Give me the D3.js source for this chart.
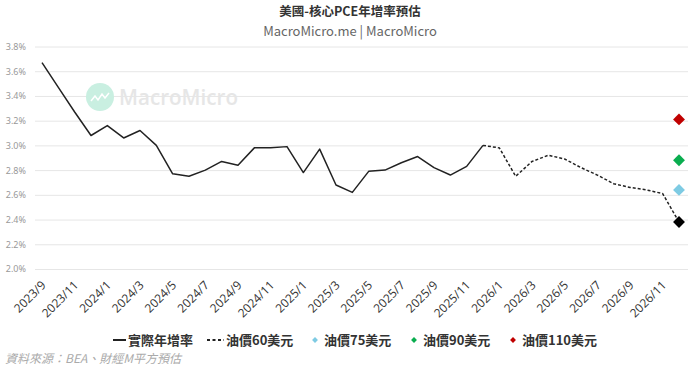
<!DOCTYPE html>
<html><head><meta charset="utf-8">
<script src="https://cdn.jsdelivr.net/npm/d3@7/dist/d3.min.js"></script>
<style>body{margin:0;background:#fff;}svg{display:block;font-family:"Noto Sans CJK TC","Noto Sans",sans-serif;}</style>
</head><body>
<svg id="c" width="700" height="368"></svg>
<script>
const months = ["2023/9","2023/10","2023/11","2023/12","2024/1","2024/2","2024/3","2024/4","2024/5","2024/6","2024/7","2024/8","2024/9","2024/10","2024/11","2024/12","2025/1","2025/2","2025/3","2025/4","2025/5","2025/6","2025/7","2025/8","2025/9","2025/10","2025/11","2025/12","2026/1","2026/2","2026/3","2026/4","2026/5","2026/6","2026/7","2026/8","2026/9","2026/10","2026/11","2026/12"];
const actual = [3.67,3.47,3.27,3.08,3.16,3.06,3.12,3.00,2.77,2.75,2.80,2.87,2.84,2.98,2.98,2.99,2.78,2.97,2.68,2.62,2.79,2.80,2.86,2.91,2.82,2.76,2.83,3.00];
const oil60Months = months.slice(27);
const oil60 = [3.00,2.98,2.75,2.87,2.92,2.89,2.82,2.76,2.69,2.66,2.64,2.61,2.38];
const oil75 = 2.64, oil90 = 2.88, oil110 = 3.21;
const yTicks = [2.0,2.2,2.4,2.6,2.8,3.0,3.2,3.4,3.6,3.8];
const tickLabels = months.filter((m,i)=>i%2===0 && i<39);

const svg = d3.select("#c");
const x = d3.scalePoint().domain(months).range([42,679]);
const y = d3.scaleLinear().domain([2.0,3.8]).range([269,46.5]);

// title
svg.append("text").attr("x",350).attr("y",16).attr("text-anchor","middle").attr("font-size",12.5).attr("font-weight","bold").attr("fill","#333").text("美國-核心PCE年增率預估");
svg.append("text").attr("x",350).attr("y",36).attr("text-anchor","middle").attr("font-size",13).attr("fill","#666").text("MacroMicro.me | MacroMicro");

// grid
const gy = svg.append("g").attr("transform","translate(35,0)")
  .call(d3.axisLeft(y).tickValues(yTicks).tickSize(-653).tickFormat(d=>d.toFixed(1)+"%"));
gy.select(".domain").remove();
gy.selectAll(".tick line").attr("stroke","#e6e6e6");
gy.selectAll(".tick text").attr("x",-9).attr("font-size",9).attr("fill","#999").attr("font-family","'Noto Sans',sans-serif");

// watermark
const wm = svg.append("g");
wm.append("circle").attr("cx",100).attr("cy",97).attr("r",14).attr("fill","#c9efe1");
wm.append("path").attr("d","M91,101 l4,-5 l3,4 l4,-6 l3,4 l4,-5").attr("fill","none").attr("stroke","#fff").attr("stroke-width",1.5);
wm.append("text").attr("x",119).attr("y",105).attr("font-size",22).attr("font-weight","600").attr("fill","#e6e6e6")
  .attr("font-family","'Open Sans',sans-serif").attr("textLength",119).attr("lengthAdjust","spacingAndGlyphs").text("MacroMicro");

// x axis labels
const gx = svg.append("g").attr("transform","translate(0,269)")
  .call(d3.axisBottom(x).tickValues(tickLabels).tickSize(0));
gx.select(".domain").remove();
gx.selectAll(".tick text").attr("font-size",12).attr("fill","#333")
  .attr("text-anchor","end").attr("dy",0).attr("y",0)
  .attr("transform","translate(4,17) rotate(-45)").attr("font-family","'Open Sans',sans-serif");

// lines
const line = d3.line().x(d=>x(d[0])).y(d=>y(d[1]));
svg.append("path").datum(actual.map((v,i)=>[months[i],v])).attr("d",line)
  .attr("fill","none").attr("stroke","#222").attr("stroke-width",1.5).attr("stroke-linejoin","round");
svg.append("path").datum(oil60.map((v,i)=>[oil60Months[i],v])).attr("d",line)
  .attr("fill","none").attr("stroke","#222").attr("stroke-width",1.5).attr("stroke-dasharray","3,2");

// diamonds
const lastM = months[months.length-1];
const diamonds = [[oil60[oil60.length-1],"#000"],[oil75,"#7ecbe3"],[oil90,"#0aad4f"],[oil110,"#c00000"]];
const sym = d3.symbol().type(d3.symbolDiamond2).size(90);
svg.selectAll(".dm").data(diamonds).join("path")
  .attr("transform",d=>`translate(${x(lastM)},${y(d[0])})`)
  .attr("d",sym).attr("fill",d=>d[1]);

// legend
const lg = svg.append("g").attr("font-size",13).attr("font-weight","bold").attr("fill","#333");
lg.append("line").attr("x1",113).attr("x2",126).attr("y1",340).attr("y2",340).attr("stroke","#222").attr("stroke-width",2);
lg.append("text").attr("x",128).attr("y",345).text("實際年增率");
lg.append("line").attr("x1",207).attr("x2",224).attr("y1",340).attr("y2",340).attr("stroke","#222").attr("stroke-width",2).attr("stroke-dasharray","3,2.5");
lg.append("text").attr("x",226).attr("y",345).text("油價60美元");
const items = [[315,"#7ecbe3","油價75美元"],[414,"#0aad4f","油價90美元"],[513,"#c00000","油價110美元"]];
const sym2 = d3.symbol().type(d3.symbolDiamond2).size(22);
items.forEach(it=>{
  lg.append("path").attr("transform",`translate(${it[0]},340)`).attr("d",sym2).attr("fill",it[1]);
  lg.append("text").attr("x",it[0]+9).attr("y",345).text(it[2]);
});

// source
svg.append("text").attr("x",5).attr("y",363).attr("font-size",12).attr("font-style","italic").attr("fill","#aaa").text("資料來源：BEA、財經M平方預估");
</script>
</body></html>
